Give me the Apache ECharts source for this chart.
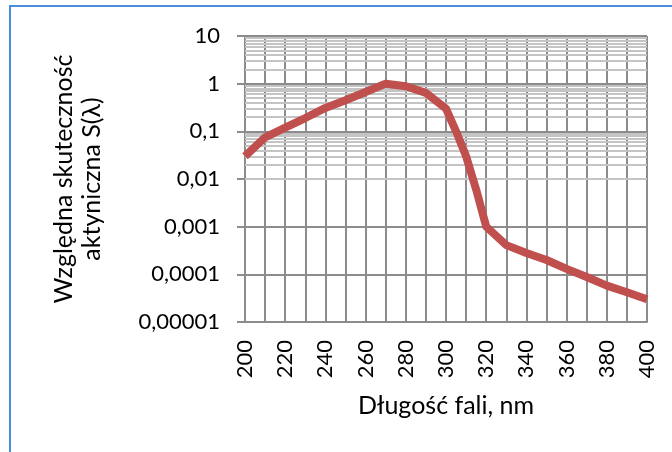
<!DOCTYPE html>
<html>
<head>
<meta charset="utf-8">
<script src="https://cdn.jsdelivr.net/npm/echarts@6/dist/echarts.min.js"></script>
<style>
  html, body { margin: 0; padding: 0; background: #fff; }
  #chart { width: 672px; height: 452px; }
</style>
</head>
<body>
<div id="chart"></div>
<script>
// Relative actinic effectiveness S(λ) versus wavelength
const wavelengths = [200, 210, 220, 230, 240, 250, 260, 270, 280, 290, 300, 305, 310, 315,
                     320, 330, 340, 350, 360, 370, 380, 390, 400];
const effectiveness = [0.03, 0.075, 0.12, 0.19, 0.31, 0.45, 0.67, 1.0, 0.88, 0.64, 0.30, 0.1, 0.03, 0.006,
                       0.001, 0.00041, 0.00028, 0.0002, 0.00013, 0.000088, 0.000058, 0.000042, 0.00003];
const yTickLabels = ['0,00001', '0,0001', '0,001', '0,01', '0,1', '1', '10'];
const xTickLabels = ['200', '220', '240', '260', '280', '300', '320', '340', '360', '380', '400'];

const FONT = 'Lato';
const majorGrid = '#8c8c8c';
const minorGrid = '#c4c4c4';

// Minor log gridlines at 2..9 × each decade
const minorLines = [];
for (let e = -5; e < 1; e++) {
  for (let m = 2; m <= 9; m++) {
    minorLines.push({ yAxis: m * Math.pow(10, e) });
  }
}

const chart = echarts.init(document.getElementById('chart'));
chart.setOption({
  animation: false,
  backgroundColor: '#ffffff',
  graphic: [{
    type: 'rect',
    shape: { x: 10, y: 6, width: 720, height: 520 },
    style: { fill: 'none', stroke: '#4a8ddb', lineWidth: 2 },
    silent: true
  }],
  grid: { left: 245, right: 25, top: 36, bottom: 130 },
  xAxis: {
    type: 'value',
    min: 200, max: 400, interval: 10,
    name: 'Długość fali, nm',
    nameLocation: 'middle',
    nameGap: 71,
    nameTextStyle: { fontFamily: FONT, fontSize: 25, color: '#000' },
    axisLine: { show: true, lineStyle: { color: majorGrid, width: 2 } },
    axisTick: { show: false },
    axisLabel: {
      rotate: 90,
      margin: 18,
      fontFamily: FONT, fontSize: 22, color: '#000',
      formatter: function (v) {
        const i = xTickLabels.indexOf(String(Math.round(v)));
        return i >= 0 ? xTickLabels[i] : '';
      }
    },
    splitLine: { show: true, lineStyle: { color: majorGrid, width: 2 } }
  },
  yAxis: {
    type: 'log',
    logBase: 10,
    min: 0.00001, max: 10,
    name: 'Względna skuteczność\naktyniczna S(λ)',
    nameLocation: 'middle',
    nameRotate: 90,
    nameGap: 139,
    nameTextStyle: { fontFamily: FONT, fontSize: 25, color: '#000', lineHeight: 28, align: 'center' },
    axisLine: { show: true, lineStyle: { color: majorGrid, width: 2 } },
    axisTick: { show: true, inside: false, length: 8, lineStyle: { color: majorGrid, width: 2 } },
    axisLabel: {
      margin: 25,
      fontFamily: FONT, fontSize: 22, color: '#000',
      formatter: function (v) {
        const e = Math.round(Math.log10(v));
        return yTickLabels[e + 5] || '';
      }
    },
    splitLine: { show: true, lineStyle: { color: majorGrid, width: 2 } }
  },
  series: [{
    type: 'line',
    data: wavelengths.map((w, i) => [w, effectiveness[i]]),
    showSymbol: false,
    lineStyle: { color: '#c0504d', width: 8, join: 'round' },
    z: 3,
    markLine: {
      silent: true,
      symbol: 'none',
      label: { show: false },
      lineStyle: { color: minorGrid, width: 2, type: 'solid' },
      data: minorLines,
      z: 1
    }
  }]
});
</script>
</body>
</html>
